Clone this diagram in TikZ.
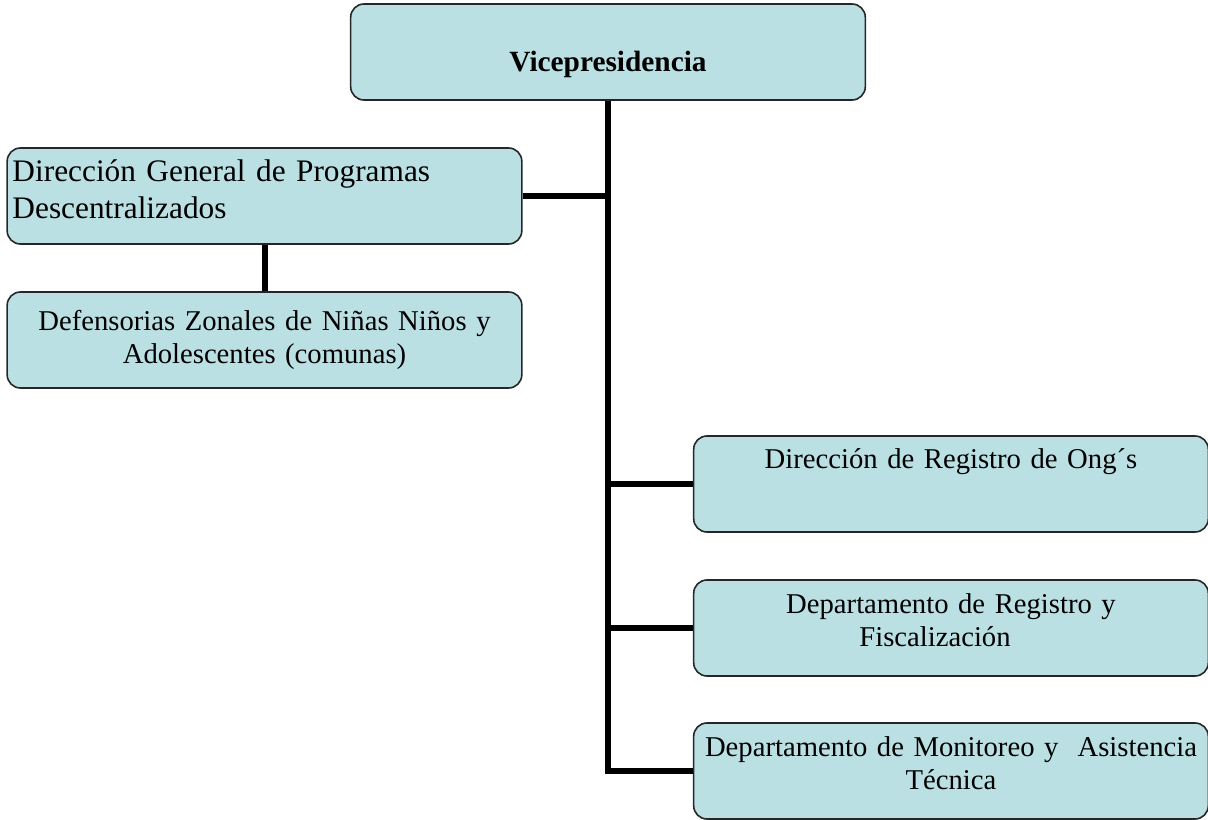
\documentclass[tikz,border=0pt]{standalone}
\usepackage{fontspec}
\setmainfont{Liberation Serif}
\usetikzlibrary{positioning}
\definecolor{boxblue}{RGB}{186,224,228}

\begin{document}
\begin{tikzpicture}[x=0.75pt, y=-0.75pt,
                orgbox/.style={
                        rectangle,
                        fill=boxblue,
                        rounded corners=10pt,
                        line width=1.2pt,
                        draw=black!85,
                        align=center,
                        inner xsep=4pt,
                        text width=378pt,
                        minimum height=72pt,
                        font=\fontsize{21.5}{25}\selectfont},
                link/.style={line width=4.5pt}]

                \useasboundingbox (0,0) rectangle (1208,820);

                \node[orgbox, font=\fontsize{22}{25}\selectfont\bfseries, text height=34pt, text depth=5pt] (vice) at (608, 52) {Vicepresidencia};

                \node[orgbox, align=left, font=\fontsize{23.5}{28}\selectfont, text height=16pt, text depth=38pt] (dgp) at (264.5, 196) {Dirección General de Programas\\ Descentralizados};

                \node[orgbox] (dzn) at (264.5, 340) {Defensorias Zonales de Niñas Niños y\\ Adolescentes (comunas)};

                \node[orgbox, text depth=38pt] (dro) at (951, 484) {Dirección de Registro de Ong´s};

                \node[orgbox, text height=15pt, text depth=37pt] (drf) at (951, 628) {Departamento de Registro y\\ Fiscalización\hspace*{24pt}\mbox{}};

                \node[orgbox, text height=15pt, text depth=37pt] (dma) at (951, 771) {Departamento de Monitoreo y\ \ Asistencia\\ Técnica};

                \draw[link] (vice.south) -- (vice.south |- dma.west) -- (dma.west);
                \draw[link] (dgp.east) -- (dgp.east -| vice.south);
                \draw[link] (dgp.south) -- (dzn.north);
                \draw[link] (dro.west -| vice.south) -- (dro.west);
                \draw[link] (drf.west -| vice.south) -- (drf.west);
            \end{tikzpicture}
\end{document}
